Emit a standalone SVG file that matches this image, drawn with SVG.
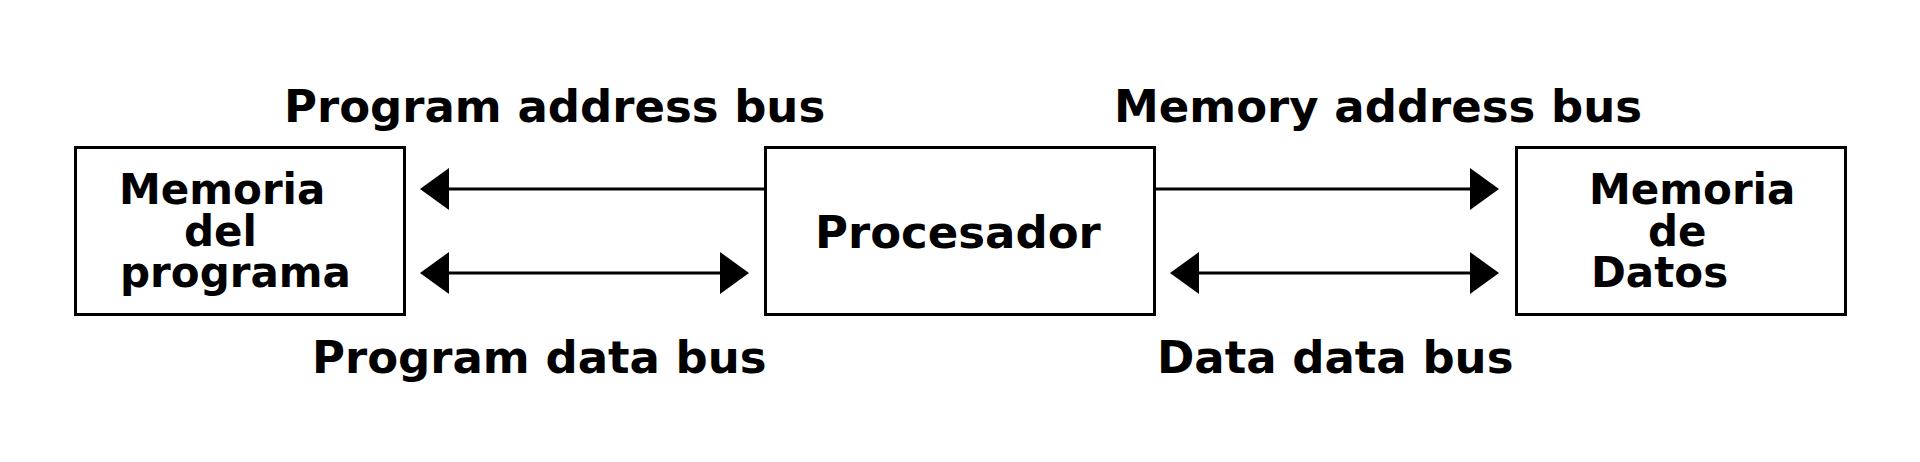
<svg xmlns="http://www.w3.org/2000/svg" width="1920" height="462" viewBox="0 0 1920 462">
<style>
.box{fill:#fff;stroke:#000;stroke-width:3}
.t{font-family:"DejaVu Sans",sans-serif;font-weight:bold;fill:#000}
.lbl{font-size:45px}
.nt{font-size:42px}
.bus{stroke:#000;stroke-width:3;fill:none}
</style>
<defs>
<marker id="ah" viewBox="0 0 29 42" refX="0" refY="21" markerWidth="29" markerHeight="42" markerUnits="userSpaceOnUse" orient="auto-start-reverse">
<path d="M0,0 L29,21 L0,42 Z" fill="#000"/>
</marker>
</defs>
<rect width="1920" height="462" fill="#fff"/>
<g id="connectors">
<line class="bus" x1="449" y1="189" x2="765" y2="189" marker-start="url(#ah)"/>
<line class="bus" x1="449" y1="273" x2="720" y2="273" marker-start="url(#ah)" marker-end="url(#ah)"/>
<line class="bus" x1="1155" y1="189" x2="1470" y2="189" marker-end="url(#ah)"/>
<line class="bus" x1="1199" y1="273" x2="1470" y2="273" marker-start="url(#ah)" marker-end="url(#ah)"/>
</g>
<g id="labels">
<text class="t lbl" x="284" y="122">Program address bus</text>
<text class="t lbl" x="312" y="373">Program data bus</text>
<text class="t lbl" x="1114" y="122">Memory address bus</text>
<text class="t lbl" x="1157" y="373">Data data bus</text>
</g>
<g id="memoria-programa">
<rect class="box" x="75.5" y="147.5" width="329" height="167"/>
<text class="t nt"><tspan x="119" y="204">Memoria</tspan><tspan x="184" y="245.5">del</tspan><tspan x="120" y="287">programa</tspan></text>
</g>
<g id="procesador">
<rect class="box" x="765.5" y="147.5" width="389" height="167"/>
<text class="t lbl" x="815" y="248">Procesador</text>
</g>
<g id="memoria-datos">
<rect class="box" x="1516.5" y="147.5" width="329" height="167"/>
<text class="t nt"><tspan x="1589" y="204">Memoria</tspan><tspan x="1648" y="245.5">de</tspan><tspan x="1591" y="287">Datos</tspan></text>
</g>
</svg>
